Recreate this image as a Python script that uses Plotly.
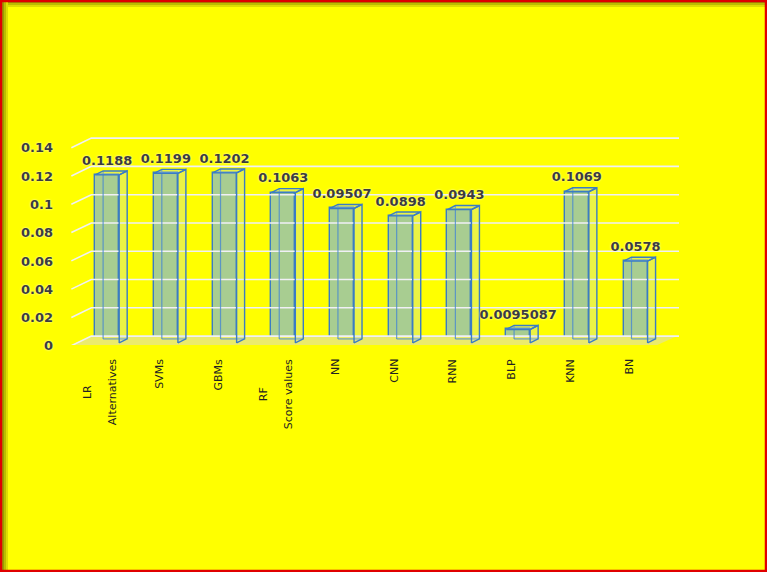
import plotly.graph_objects as go

# ---------------- data ----------------
categories = ["LR", "SVMs", "GBMs", "RF", "NN", "CNN", "RNN", "BLP", "KNN", "BN"]
score_values = [0.1188, 0.1199, 0.1202, 0.1063, 0.09507, 0.0898, 0.0943, 0.0095087, 0.1069, 0.0578]
value_labels = ["0.1188", "0.1199", "0.1202", "0.1063", "0.09507", "0.0898", "0.0943",
                "0.0095087", "0.1069", "0.0578"]
x_tick_labels = ["LR<br>Alternatives", "SVMs", "GBMs", "RF<br>Score values", "NN", "CNN",
                 "RNN", "BLP", "KNN", "BN"]
y_ticks = [0, 0.02, 0.04, 0.06, 0.08, 0.1, 0.12, 0.14]
y_tick_labels = ["0", "0.02", "0.04", "0.06", "0.08", "0.1", "0.12", "0.14"]

# ---------------- layout constants ----------------
W, H = 767, 572
L, R, T, B = 69, 88, 136, 227
XR = [-0.65, 9.74]
YR = [-0.0015, 0.1463]
BW = 0.41      # bar width (category units)
DX = 0.136     # 3D depth in x
DY = 0.0028    # 3D depth in y
WALL_X0, WALL_X1, WALL_XE = -0.61, -0.27, 9.74
WALL_DY0, WALL_DY1 = -0.002, 0.0048

def px_x(p):
    return (p - L) / (W - L - R)

def px_y(p):
    return (H - B - p) / (H - T - B)

xs_idx = list(range(len(categories)))
fig = go.Figure()

# floor
fig.add_trace(go.Scatter(
    x=[WALL_X0, 9.37, 9.71, WALL_X1, WALL_X0],
    y=[YR[0], YR[0], WALL_DY1, WALL_DY1, YR[0]],
    mode="lines", fill="toself", fillcolor="#ebeb6c",
    line=dict(width=0), hoverinfo="skip", showlegend=False))

# back wall gridlines
gx, gy = [], []
for v in y_ticks:
    gx += [WALL_X0, WALL_X1, WALL_XE, None]
    gy += [v + WALL_DY0, v + WALL_DY1, v + WALL_DY1, None]
fig.add_trace(go.Scatter(x=gx, y=gy, mode="lines",
                         line=dict(color="#f0f0f6", width=1.6),
                         hoverinfo="skip", showlegend=False))

# hidden back edges seen through the transparent boxes
hx, hy = [], []
for i, v in zip(xs_idx, score_values):
    x0, x1 = i - BW / 2, i + BW / 2
    hx += [x0 + DX, x0 + DX, None, x0 + DX, x1 + DX, None]
    hy += [v + DY, DY, None, DY, DY, None]
fig.add_trace(go.Scatter(x=hx, y=hy, mode="lines",
                         line=dict(color="rgba(70,135,210,0.8)", width=1.2),
                         hoverinfo="skip", showlegend=False))

# side and top faces
sx, sy = [], []
for i, v in zip(xs_idx, score_values):
    x0, x1 = i - BW / 2, i + BW / 2
    sx += [x1, x1 + DX, x1 + DX, x1, x1, None]
    sy += [0, DY, v + DY, v, 0, None]
    sx += [x0, x1, x1 + DX, x0 + DX, x0, None]
    sy += [v, v, v + DY, v + DY, v, None]
fig.add_trace(go.Scatter(x=sx, y=sy, mode="lines", fill="toself",
                         fillcolor="rgba(190,215,225,0.3)",
                         line=dict(color="#3a7cc4", width=1.4),
                         hoverinfo="skip", showlegend=False))

# front faces
fig.add_trace(go.Bar(x=xs_idx, y=score_values, width=BW,
                     marker=dict(color="rgba(131,184,207,0.7)",
                                 line=dict(color="#3a7cc4", width=1.4)),
                     hoverinfo="skip", showlegend=False))

# value labels
fig.add_trace(go.Scatter(
    x=xs_idx, y=[v + DY + 0.0022 for v in score_values], text=value_labels,
    mode="text", textposition="top center",
    textfont=dict(family="DejaVu Sans", size=13, color="#3c3c3c", weight="bold",
                  shadow="0px 0px 2px #ffffff"),
    hoverinfo="skip", showlegend=False, cliponaxis=False))

# category labels (rotated)
annotations = []
for i, lab in zip(xs_idx, x_tick_labels):
    txt = "<br>".join('<span style="font-size:11px">%s</span>' % part for part in lab.split("<br>"))
    annotations.append(dict(
        x=i, y=px_y(357), xref="x", yref="paper", text=txt, showarrow=False,
        textangle=-90, xanchor="center", yanchor="top", xshift=-7, align="center",
        font=dict(family="DejaVu Sans", size=19, color="#222222")))

# page border and inner shadow
shapes = []
for (a, b, col) in [(2, 4, "#9a9a00"), (4, 6, "#bcbc00"), (6, 8, "#dede00")]:
    shapes.append(dict(type="rect", xref="paper", yref="paper",
                       x0=px_x(a), x1=px_x(b), y0=px_y(H - 2), y1=px_y(2),
                       fillcolor=col, line=dict(width=0), layer="below"))
    shapes.append(dict(type="rect", xref="paper", yref="paper",
                       x0=px_x(b), x1=px_x(W - 2), y0=px_y(b - 1), y1=px_y(a - 1),
                       fillcolor=col, line=dict(width=0), layer="below"))
shapes.append(dict(type="rect", xref="paper", yref="paper",
                   x0=px_x(1), x1=px_x(W - 1), y0=px_y(H - 1), y1=px_y(1),
                   line=dict(color="#e00000", width=2.5), fillcolor="rgba(0,0,0,0)",
                   layer="above"))

fig.update_layout(
    template="none",
    width=W, height=H,
    margin=dict(l=L, r=R, t=T, b=B, pad=0),
    paper_bgcolor="#ffff00", plot_bgcolor="rgba(0,0,0,0)",
    xaxis=dict(range=XR, showgrid=False, zeroline=False, showline=False,
               showticklabels=False, ticks="", automargin=False),
    yaxis=dict(range=YR, showgrid=False, zeroline=False, showline=False,
               tickmode="array", tickvals=y_ticks, ticktext=y_tick_labels, ticks="",
               ticklabelstandoff=15, ticklabelshift=3, automargin=False,
               tickfont=dict(family="DejaVu Sans", size=13, color="#3c3c3c", weight="bold",
                             shadow="0px 0px 2px #ffffff")),
    annotations=annotations, shapes=shapes,
    bargap=0, showlegend=False,
)

fig.write_html("out.html")
